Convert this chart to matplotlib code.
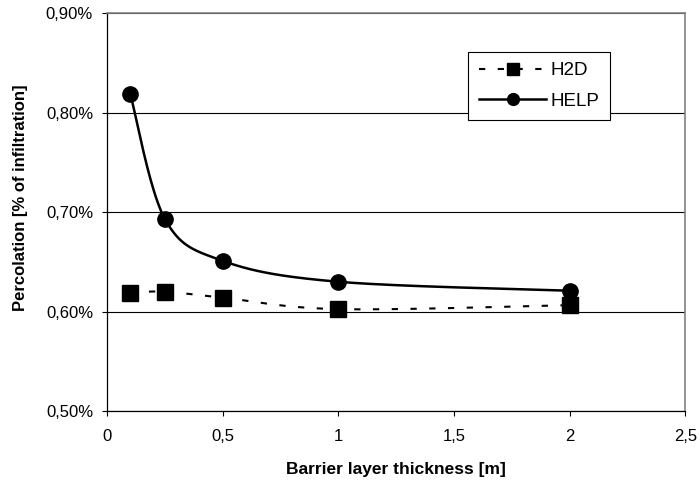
import numpy as np
import matplotlib.pyplot as plt
from matplotlib.ticker import FuncFormatter

plt.rcParams['font.family'] = ['Liberation Sans', 'DejaVu Sans']

# Data (percolation in % of infiltration)
thickness = [0.1, 0.25, 0.5, 1.0, 2.0]
h2d = [0.619, 0.620, 0.614, 0.6025, 0.6065]
help_vals = [0.819, 0.693, 0.651, 0.630, 0.621]

x_ticks = [0, 0.5, 1, 1.5, 2, 2.5]
y_ticks = [0.50, 0.60, 0.70, 0.80, 0.90]


def smooth(xs, ys, n=40):
    # Excel-like smoothed line: Catmull-Rom as cubic Bezier segments
    p = np.column_stack([xs, ys]).astype(float)
    p = np.vstack([p[0], p, p[-1]])
    out = []
    for i in range(1, len(p) - 2):
        p0, p1, p2, p3 = p[i - 1], p[i], p[i + 1], p[i + 2]
        c1 = p1 + (p2 - p0) / 6
        c2 = p2 - (p3 - p1) / 6
        t = np.linspace(0, 1, n)[:, None]
        seg = ((1 - t) ** 3) * p1 + 3 * ((1 - t) ** 2) * t * c1 \
            + 3 * (1 - t) * t ** 2 * c2 + t ** 3 * p2
        out.append(seg)
    out = np.vstack(out)
    return out[:, 0], out[:, 1]


fig = plt.figure(figsize=(7, 4.82), dpi=100)
ax = fig.add_axes([0.153, 0.147, 0.826, 0.826])

ax.set_xlim(0, 2.5)
ax.set_ylim(0.50, 0.90)
ax.set_xticks(x_ticks)
ax.set_yticks(y_ticks)
ax.xaxis.set_major_formatter(FuncFormatter(lambda v, p: ('%g' % v).replace('.', ',')))
ax.yaxis.set_major_formatter(FuncFormatter(lambda v, p: ('%.2f%%' % v).replace('.', ',')))
ax.grid(axis='y', color='black', linewidth=0.8)
ax.set_axisbelow(True)

for s in ['top', 'right']:
    ax.spines[s].set_color('#808080')
    ax.spines[s].set_linewidth(1.2)
for s in ['left', 'bottom']:
    ax.spines[s].set_color('black')
    ax.spines[s].set_linewidth(0.9)
ax.tick_params(direction='out', length=3.6, width=0.8, labelsize=12)
ax.tick_params(axis='x', pad=9)
ax.tick_params(axis='y', pad=6.5)

sx, sy = smooth(thickness, h2d)
ax.plot(sx, sy, color='black', lw=1.5, linestyle=(0, (3, 6)))
hx, hy = smooth(thickness, help_vals)
ax.plot(hx, hy, color='black', lw=1.8)

ax.plot(thickness, h2d, 's', color='black', ms=11)
ax.plot(thickness, help_vals, 'o', color='black', ms=11)

# legend proxies
ax.plot([], [], color='black', lw=1.5, linestyle=(0, (3, 6)), marker='s', ms=8.5, label='H2D')
ax.plot([], [], color='black', lw=1.8, marker='o', ms=8.5, label='HELP')
leg = ax.legend(loc='upper left', bbox_to_anchor=(0.625, 0.902),
                borderaxespad=0, fancybox=False, framealpha=1, fontsize=13.5,
                handlelength=3.6, handletextpad=0.25, borderpad=0.55,
                labelspacing=0.7)
leg.get_frame().set_edgecolor('black')
leg.get_frame().set_linewidth(0.8)

ax.set_xlabel('Barrier layer thickness [m]', fontsize=12.5, fontweight='bold', va='center')
ax.set_ylabel('Percolation [% of infiltration]', fontsize=12, fontweight='bold', va='center')
ax.xaxis.set_label_coords(0.5, -0.146)
ax.yaxis.set_label_coords(-0.149, 0.536)

fig.savefig('out.png', dpi=100)
